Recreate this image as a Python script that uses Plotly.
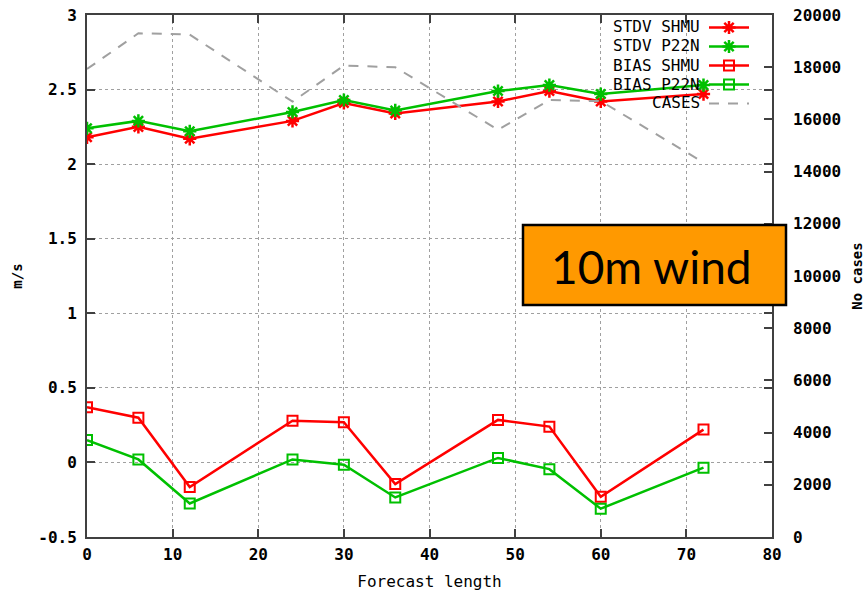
import plotly.graph_objects as go

forecast = [0, 6, 12, 24, 30, 36, 48, 54, 60, 72]
stdv_shmu = [2.18, 2.25, 2.17, 2.29, 2.41, 2.34, 2.42, 2.49, 2.42, 2.47]
stdv_p22n = [2.24, 2.29, 2.22, 2.35, 2.43, 2.36, 2.49, 2.53, 2.47, 2.53]
bias_shmu = [0.37, 0.30, -0.165, 0.28, 0.27, -0.145, 0.285, 0.24, -0.23, 0.22]
bias_p22n = [0.15, 0.02, -0.275, 0.02, -0.015, -0.235, 0.03, -0.045, -0.31, -0.035]
cases = [17930, 19300, 19250, 16680, 18060, 18000, 15600, 16740, 16700, 14350]

y_ticks = [-0.5, 0, 0.5, 1, 1.5, 2, 2.5, 3]
y_ticktext = ["-0.5", "0", "0.5", "1", "1.5", "2", "2.5", "3"]
y2_ticks = list(range(0, 20001, 2000))
y2_ticktext = [str(v) for v in y2_ticks]
x_ticks = list(range(0, 81, 10))

legend_names = ["STDV SHMU", "STDV P22N", "BIAS SHMU", "BIAS P22N", "CASES"]

RED = "#ff0000"
GREEN = "#00c000"
GRAY = "#a0a0a0"
MONO = "DejaVu Sans Mono"

fig = go.Figure()
fig.add_trace(go.Scatter(x=forecast, y=stdv_shmu, name="", mode="lines+markers",
                         line=dict(color=RED, width=2.5),
                         marker=dict(symbol="asterisk-open", size=11, line=dict(color=RED, width=2.5))))
fig.add_trace(go.Scatter(x=forecast, y=stdv_p22n, name="", mode="lines+markers",
                         line=dict(color=GREEN, width=2.5),
                         marker=dict(symbol="asterisk-open", size=11, line=dict(color=GREEN, width=2.5))))
fig.add_trace(go.Scatter(x=forecast, y=bias_shmu, name="", mode="lines+markers",
                         line=dict(color=RED, width=2.5),
                         marker=dict(symbol="square-open", size=10, line=dict(color=RED, width=2))))
fig.add_trace(go.Scatter(x=forecast, y=bias_p22n, name="", mode="lines+markers",
                         line=dict(color=GREEN, width=2.5),
                         marker=dict(symbol="square-open", size=10, line=dict(color=GREEN, width=2))))
fig.add_trace(go.Scatter(x=forecast, y=cases, name="", mode="lines", yaxis="y2",
                         line=dict(color=GRAY, width=2, dash="10px,9px")))

# the page body margin is removed below, so figure pixels == page pixels
W, H = 867, 595
PL, PR, PT, PB = 87, 772, 15, 537   # plot area in page pixels
L, T = PL, PT
pw, ph = PR - PL, PB - PT
R = W - L - pw
B = H - T - ph

def px_x(px):
    return (px - PL) / pw

def px_y(py):
    return (PB - py) / ph

tickfont = dict(family=MONO, size=16, color="black", weight="bold")

fig.update_layout(
    width=W, height=H,
    margin=dict(l=L, r=R, t=T, b=B, autoexpand=False),
    paper_bgcolor="white", plot_bgcolor="white",
    showlegend=True,
    legend=dict(x=px_x(704), y=px_y(13), xanchor="left", yanchor="top",
                bgcolor="rgba(0,0,0,0)", font=dict(family=MONO, size=11),
                tracegroupgap=0, itemwidth=40),
    xaxis=dict(range=[0, 80], tickvals=x_ticks, showgrid=True, griddash="dot",
               gridcolor="#a0a0a0", gridwidth=1, zeroline=False, automargin=False,
               showline=True, linecolor="#404040", linewidth=2, mirror="ticks",
               ticks="inside", ticklen=8, tickcolor="#404040", tickwidth=1.5,
               tickfont=tickfont, ticklabelstandoff=2, ticklabeloverflow="allow",
               title=dict(text="Forecast length", font=dict(family=MONO, size=16, color="black"), standoff=13)),
    yaxis=dict(range=[-0.5, 3], tickvals=y_ticks, ticktext=y_ticktext, showgrid=True,
               griddash="dot", gridcolor="#a0a0a0", gridwidth=1, zeroline=False,
               automargin=False, ticklabeloverflow="allow",
               showline=True, linecolor="#404040", linewidth=2, mirror="ticks",
               ticks="inside", ticklen=8, tickcolor="#404040", tickwidth=1.5,
               tickfont=tickfont, ticklabelstandoff=5,
               title=dict(text="m/s", font=dict(family=MONO, size=14, color="black", weight="bold"), standoff=12)),
    yaxis2=dict(range=[0, 20000], tickvals=y2_ticks, ticktext=y2_ticktext, overlaying="y", side="right",
                showgrid=False, zeroline=False, ticks="inside", ticklen=8, automargin=False,
                tickcolor="#404040", tickwidth=1.5, tickfont=tickfont, showline=False,
                ticklabelstandoff=20, ticklabeloverflow="allow",
                title=dict(text="No cases", font=dict(family=MONO, size=14, color="black", weight="bold"), standoff=12)),
)

# legend labels, right aligned, to the left of the samples
for i, name in enumerate(legend_names):
    fig.add_annotation(xref="paper", yref="paper", x=px_x(702), y=px_y(27 + 19 * i),
                       text=name, showarrow=False, xanchor="right", yanchor="middle",
                       font=dict(family=MONO, size=16, color="black"))

# orange label box
fig.add_shape(type="rect", xref="paper", yref="paper",
              x0=px_x(523), x1=px_x(786), y0=px_y(305), y1=px_y(225),
              fillcolor="#ff9900", line=dict(color="black", width=2.5), layer="above")
fig.add_annotation(xref="paper", yref="paper", x=px_x(651), y=px_y(266),
                   text="10m wind", showarrow=False, xanchor="center", yanchor="middle",
                   font=dict(family="Lato", size=46, color="black"))

fig.write_html("out.html", config={"displayModeBar": False},
               post_script="document.body.style.margin='0';document.body.style.overflow='hidden';")
